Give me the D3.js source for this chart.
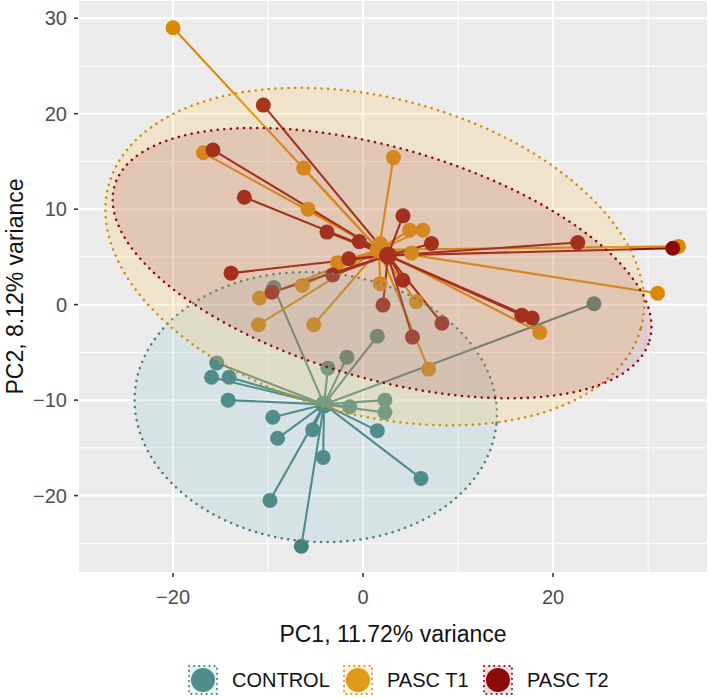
<!DOCTYPE html>
<html>
<head>
<meta charset="utf-8">
<script src="https://cdn.jsdelivr.net/npm/d3@7"></script>
<style>
  body { margin: 0; background: #ffffff; }
  svg { display: block; font-family: "Liberation Sans", Arial, Helvetica, sans-serif; }
</style>
</head>
<body>
<svg id="chart" width="709" height="698"></svg>
<script>
// ---------------- data ----------------
const groups = ["CONTROL", "PASC T1", "PASC T2"];
const groupColors = ["#43807E", "#D88A05", "#8E0A06"];
const groupFills = ["rgb(130,190,200)", "rgb(255,205,100)", "rgb(140,20,40)"];
const groupFillAlpha = [0.2, 0.23, 0.14];

const controlX = [-15.4, -15.95, -14.1, -14.2, -9.5, -9.0, -5.3, -4.2, -9.8, -6.5, -1.7, -3.7, -1.4, 1.5, 2.3, 2.3, 1.5, 6.1, 24.3, -9.4];
const controlY = [-6.1, -7.6, -7.6, -10.0, -11.8, -14.0, -13.1, -16.0, -20.5, -25.3, -5.5, -6.65, -10.7, -3.3, -10.0, -11.3, -13.2, -18.2, 0.1, 1.8];

const t1X = [-20.0, -16.8, -6.25, -5.8, 3.2, 4.9, 6.3, 33.2, 31.0, 18.6, 6.9, 5.6, 1.8, -10.9, -11.0, -5.2, -6.4, -2.7, 5.1, 1.8];
const t1Y = [29.0, 15.9, 14.3, 10.0, 15.4, 7.8, 7.8, 6.1, 1.2, -2.9, -6.75, 0.3, 2.2, 0.7, -2.1, -2.1, 2.0, 4.4, 5.4, 6.4];

const t2X = [-10.5, -15.8, -12.5, -3.8, -13.9, -9.6, -3.2, -1.5, -0.4, 4.2, 7.2, 4.2, 2.1, 8.3, 5.2, 22.6, 32.6, 16.7, 17.8];
const t2Y = [20.9, 16.2, 11.25, 7.6, 3.3, 1.3, 3.1, 4.8, 6.6, 9.3, 6.4, 2.55, -0.05, -1.95, -3.4, 6.5, 5.9, -1.1, -1.4];

// 95% ellipses (centre, semi-axes, rotation in degrees)
const ellipseCx = [-4.98, 1.23, 2.0];
const ellipseCy = [-10.73, 5.03, 4.35];
const ellipseA = [19.1, 29.0, 29.3];
const ellipseB = [14.1, 16.6, 12.1];
const ellipseAngle = [-4.9, -14.8, -16.0];

const xTicks = [-20, 0, 20];
const yTicks = [-20, -10, 0, 10, 20, 30];
const xMinor = [-30, -10, 10, 30];
const yMinor = [-25, -15, -5, 5, 15, 25];
const xTitle = "PC1, 11.72% variance";
const yTitle = "PC2, 8.12% variance";

// ---------------- layout ----------------
const panel = { left: 79, right: 707, top: 1, bottom: 572 };
const svg = d3.select("#chart");
const x = d3.scaleLinear().domain([-29.9, 36.2]).range([panel.left, panel.right]);
const y = d3.scaleLinear().domain([-28.0, 31.8]).range([panel.bottom, panel.top]);

const allX = [controlX, t1X, t2X];
const allY = [controlY, t1Y, t2Y];
const data = groups.map((g, gi) => {
  const pts = allX[gi].map((v, i) => ({ x: v, y: allY[gi][i] }));
  return { group: g, gi, pts, cx: d3.mean(pts, d => d.x), cy: d3.mean(pts, d => d.y) };
});

// panel background
svg.append("rect")
  .attr("x", panel.left).attr("y", panel.top)
  .attr("width", panel.right - panel.left).attr("height", panel.bottom - panel.top)
  .attr("fill", "#EBEBEB");

svg.append("clipPath").attr("id", "clip").append("rect")
  .attr("x", panel.left).attr("y", panel.top)
  .attr("width", panel.right - panel.left).attr("height", panel.bottom - panel.top);

const grid = svg.append("g").attr("clip-path", "url(#clip)");
xMinor.forEach(v => grid.append("line").attr("x1", x(v)).attr("x2", x(v)).attr("y1", panel.top).attr("y2", panel.bottom).attr("stroke", "#fff").attr("stroke-width", 1));
yMinor.forEach(v => grid.append("line").attr("y1", y(v)).attr("y2", y(v)).attr("x1", panel.left).attr("x2", panel.right).attr("stroke", "#fff").attr("stroke-width", 1));
xTicks.forEach(v => grid.append("line").attr("x1", x(v)).attr("x2", x(v)).attr("y1", panel.top).attr("y2", panel.bottom).attr("stroke", "#fff").attr("stroke-width", 2));
yTicks.forEach(v => grid.append("line").attr("y1", y(v)).attr("y2", y(v)).attr("x1", panel.left).attr("x2", panel.right).attr("stroke", "#fff").attr("stroke-width", 2));

const plot = svg.append("g").attr("clip-path", "url(#clip)");

// spider segments
data.forEach(d => {
  plot.append("g").selectAll("line").data(d.pts).join("line")
    .attr("x1", x(d.cx)).attr("y1", y(d.cy))
    .attr("x2", p => x(p.x)).attr("y2", p => y(p.y))
    .attr("stroke", groupColors[d.gi]).attr("stroke-width", 2.1);
});
// points
data.forEach(d => {
  plot.append("g").selectAll("circle").data(d.pts).join("circle")
    .attr("cx", p => x(p.x)).attr("cy", p => y(p.y)).attr("r", 7.5)
    .attr("fill", groupColors[d.gi]);
  plot.append("circle").attr("cx", x(d.cx)).attr("cy", y(d.cy)).attr("r", 9)
    .attr("fill", groupColors[d.gi]);
});

// ellipses
function ellipsePoints(gi) {
  const th = ellipseAngle[gi] * Math.PI / 180;
  return d3.range(0, 361, 2).map(t => {
    const a = t * Math.PI / 180;
    const ex = ellipseA[gi] * Math.cos(a), ey = ellipseB[gi] * Math.sin(a);
    return [ellipseCx[gi] + ex * Math.cos(th) - ey * Math.sin(th),
            ellipseCy[gi] + ex * Math.sin(th) + ey * Math.cos(th)];
  });
}
const ellLine = d3.line().x(p => x(p[0])).y(p => y(p[1]));
groups.forEach((g, gi) => {
  plot.append("path").attr("d", ellLine(ellipsePoints(gi)) + "Z")
    .attr("fill", groupFills[gi]).attr("fill-opacity", groupFillAlpha[gi])
    .attr("stroke", groupColors[gi]).attr("stroke-width", 2.5)
    .attr("stroke-dasharray", "0.1 6.5").attr("stroke-linecap", "round");
});

// axes
const tickCol = "#333333", labCol = "#4D4D4D";
yTicks.forEach(v => {
  svg.append("line").attr("x1", panel.left - 5).attr("x2", panel.left - 1).attr("y1", y(v)).attr("y2", y(v)).attr("stroke", tickCol).attr("stroke-width", 1.6);
  svg.append("text").attr("x", panel.left - 12).attr("y", y(v)).attr("dy", "0.36em")
    .attr("text-anchor", "end").attr("font-size", 20).attr("fill", labCol)
    .text(String(v).replace("-", "\u2212"));
});
xTicks.forEach(v => {
  svg.append("line").attr("y1", panel.bottom + 1).attr("y2", panel.bottom + 5).attr("x1", x(v)).attr("x2", x(v)).attr("stroke", tickCol).attr("stroke-width", 1.6);
  svg.append("text").attr("x", x(v)).attr("y", 604)
    .attr("text-anchor", "middle").attr("font-size", 20).attr("fill", labCol)
    .text(String(v).replace("-", "\u2212"));
});
svg.append("text").attr("x", (panel.left + panel.right) / 2).attr("y", 642)
  .attr("text-anchor", "middle").attr("font-size", 23).attr("fill", "#111").text(xTitle);
svg.append("text").attr("transform", `translate(23,${(panel.top + panel.bottom) / 2}) rotate(-90)`)
  .attr("text-anchor", "middle").attr("font-size", 23).attr("fill", "#111").text(yTitle);

// legend
const legKeyX = [188, 343, 483];
const legY = 665, legS = 30;
groups.forEach((g, gi) => {
  const lg = svg.append("g");
  lg.append("rect").attr("x", legKeyX[gi]).attr("y", legY).attr("width", legS).attr("height", legS).attr("fill", "#fff");
  lg.append("circle").attr("cx", legKeyX[gi] + legS / 2).attr("cy", legY + legS / 2).attr("r", 12).attr("fill", groupColors[gi]);
  lg.append("rect").attr("x", legKeyX[gi] + 1).attr("y", legY + 1).attr("width", legS - 2).attr("height", legS - 2)
    .attr("fill", groupFills[gi]).attr("fill-opacity", groupFillAlpha[gi])
    .attr("stroke", groupColors[gi]).attr("stroke-width", 2).attr("stroke-dasharray", "0.1 5").attr("stroke-linecap", "round");
  lg.append("text").attr("x", legKeyX[gi] + legS + 14).attr("y", legY + legS / 2).attr("dy", "0.36em")
    .attr("font-size", 20).attr("fill", "#111").text(g);
});
</script>
</body>
</html>
